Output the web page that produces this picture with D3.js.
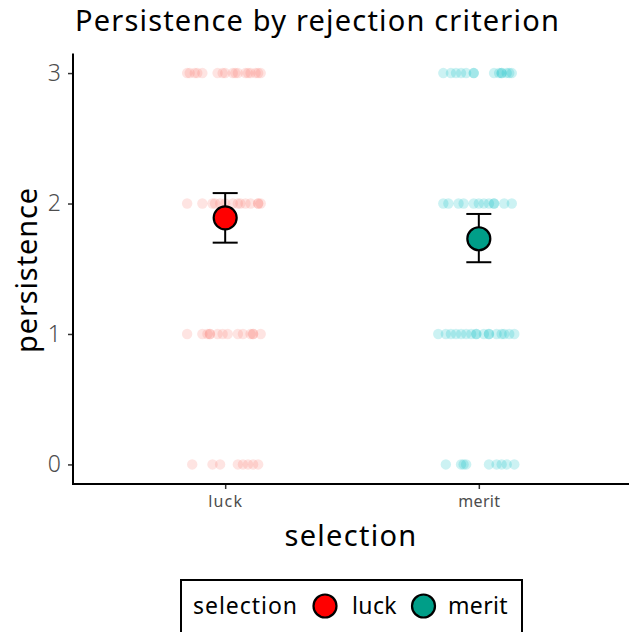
<!DOCTYPE html>
<html>
<head>
<meta charset="utf-8">
<script src="https://cdn.jsdelivr.net/npm/d3@7"></script>
<style>
  body { margin: 0; background: #fff; }
  text { font-family: "Noto Sans", Lato, sans-serif; }
</style>
</head>
<body>
<div id="chart"></div>
<script>
// categories and summary values
const groups = ["luck", "merit"];
const levels = [0, 1, 2, 3];
const means = [1.89, 1.73];
const lower = [1.70, 1.55];
const upper = [2.08, 1.92];

// jittered raw responses: horizontal offsets (category units) at each level
const luckJitter = {
  3: [-0.15, -0.14, -0.12, -0.11, -0.09, -0.03, -0.01, 0.0, 0.03, 0.04, 0.05, 0.08, 0.09, 0.10, 0.12, 0.13, 0.14],
  2: [-0.15, -0.09, -0.05, -0.04, -0.02, 0.0, 0.03, 0.05, 0.06, 0.08, 0.10, 0.13, 0.13, 0.14],
  1: [-0.15, -0.09, -0.07, -0.06, -0.06, -0.03, -0.01, 0.01, 0.05, 0.07, 0.10, 0.11, 0.11, 0.14],
  0: [-0.13, -0.05, -0.02, 0.05, 0.07, 0.09, 0.11, 0.13]
};
const meritJitter = {
  3: [-0.14, -0.11, -0.09, -0.07, -0.05, -0.02, -0.02, 0.06, 0.08, 0.09, 0.09, 0.11, 0.12, 0.13],
  2: [-0.14, -0.12, -0.08, -0.06, -0.02, 0.0, 0.02, 0.04, 0.06, 0.06, 0.10, 0.13],
  1: [-0.16, -0.13, -0.11, -0.09, -0.07, -0.05, -0.03, -0.01, -0.01, 0.02, 0.04, 0.04, 0.07, 0.09, 0.10, 0.12, 0.14],
  0: [-0.13, -0.07, -0.06, -0.05, 0.04, 0.07, 0.09, 0.11, 0.14]
};
const jitter = [luckJitter, meritJitter];
const rawColors = ["#F8766D", "#00BFC4"];
const meanColors = ["#FF0000", "#009E88"];

const W = 629, H = 632;
const svg = d3.select("#chart").append("svg")
  .attr("width", W).attr("height", H);

const plotLeft = 73, plotRight = 631, plotTop = 53.5, plotBottom = 484;

const x = d3.scalePoint().domain(groups).range([plotLeft, plotRight]).padding(0.6);
const step = x.step();
const y = d3.scaleLinear().domain([-0.15, 3.15]).range([plotBottom, plotTop]);

// stretch text a little with letter spacing so it takes the reference width
function fit(sel, target) {
  sel.each(function() {
    const n = this.textContent.length;
    const w = this.getComputedTextLength();
    d3.select(this).style("letter-spacing", ((target - w) / n) + "px");
  });
  return sel;
}

// raw points
const raw = [];
groups.forEach((g, gi) => {
  levels.forEach(lv => {
    jitter[gi][lv].forEach(j => raw.push({ g: gi, v: lv, j: j }));
  });
});
svg.append("g").selectAll("circle").data(raw).join("circle")
  .attr("cx", d => x(groups[d.g]) + d.j * step)
  .attr("cy", d => y(d.v))
  .attr("r", 5.2)
  .attr("fill", d => rawColors[d.g])
  .attr("fill-opacity", 0.2);

// error bars
const eb = svg.append("g");
groups.forEach((g, i) => {
  const cx = x(g);
  eb.append("line").attr("x1", cx).attr("x2", cx).attr("y1", y(lower[i])).attr("y2", y(upper[i]))
    .attr("stroke", "#000").attr("stroke-width", 2);
  [lower[i], upper[i]].forEach(v => {
    eb.append("line").attr("x1", cx - 12.5).attr("x2", cx + 12.5).attr("y1", y(v)).attr("y2", y(v))
      .attr("stroke", "#000").attr("stroke-width", 2);
  });
  eb.append("circle").attr("cx", cx).attr("cy", y(means[i])).attr("r", 11.5)
    .attr("fill", meanColors[i]).attr("stroke", "#000").attr("stroke-width", 2.2);
});

// axes
const yAxis = svg.append("g")
  .attr("transform", `translate(${plotLeft},0)`)
  .call(d3.axisLeft(y).tickValues(levels).tickSize(5).tickPadding(7).tickFormat(d3.format("d")));
yAxis.select(".domain").remove();
yAxis.selectAll(".tick line").attr("stroke", "#333").attr("stroke-width", 1.5);
yAxis.selectAll(".tick text").attr("fill", "#4D4D4D").style("font-size", "23px")
  .style("font-family", "'Noto Sans', Lato, sans-serif").style("font-weight", "300");

const xAxis = svg.append("g")
  .attr("transform", `translate(0,${plotBottom})`)
  .call(d3.axisBottom(x).tickSize(5).tickPadding(7));
xAxis.select(".domain").remove();
xAxis.selectAll(".tick line").attr("stroke", "#333").attr("stroke-width", 1.5);
xAxis.selectAll(".tick text").attr("fill", "#4D4D4D").style("font-size", "16px")
  .style("font-family", "'Noto Sans', Lato, sans-serif");
fit(xAxis.selectAll(".tick text").filter(d => d === "luck"), 35);
fit(xAxis.selectAll(".tick text").filter(d => d === "merit"), 42);

svg.append("line").attr("x1", plotLeft).attr("x2", plotLeft).attr("y1", plotTop).attr("y2", plotBottom + 1)
  .attr("stroke", "#000").attr("stroke-width", 2);
svg.append("line").attr("x1", plotLeft - 1).attr("x2", W).attr("y1", plotBottom).attr("y2", plotBottom)
  .attr("stroke", "#000").attr("stroke-width", 2);

// titles
fit(svg.append("text").attr("x", 75).attr("y", 31).text("Persistence by rejection criterion")
  .style("font-size", "29px").attr("fill", "#000"), 485);
fit(svg.append("text").attr("transform", `translate(37,270) rotate(-90)`)
  .attr("text-anchor", "middle").text("persistence").style("font-size", "29px"), 166);
fit(svg.append("text").attr("x", 351).attr("y", 546).attr("text-anchor", "middle")
  .text("selection").style("font-size", "29px"), 133);

// legend
const lg = svg.append("g");
lg.append("rect").attr("x", 181).attr("y", 580).attr("width", 341).attr("height", 56)
  .attr("fill", "#fff").attr("stroke", "#000").attr("stroke-width", 2);
fit(lg.append("text").attr("x", 193).attr("y", 614).text("selection").style("font-size", "23px"), 105);
const legItems = [{ cx: 325, tx: 352, w: 45 }, { cx: 423.5, tx: 448, w: 60 }];
groups.forEach((g, i) => {
  lg.append("circle").attr("cx", legItems[i].cx).attr("cy", 606).attr("r", 11.5)
    .attr("fill", meanColors[i]).attr("stroke", "#000").attr("stroke-width", 2.2);
  fit(lg.append("text").attr("x", legItems[i].tx).attr("y", 614).text(g).style("font-size", "23px"), legItems[i].w);
});
</script>
</body>
</html>
